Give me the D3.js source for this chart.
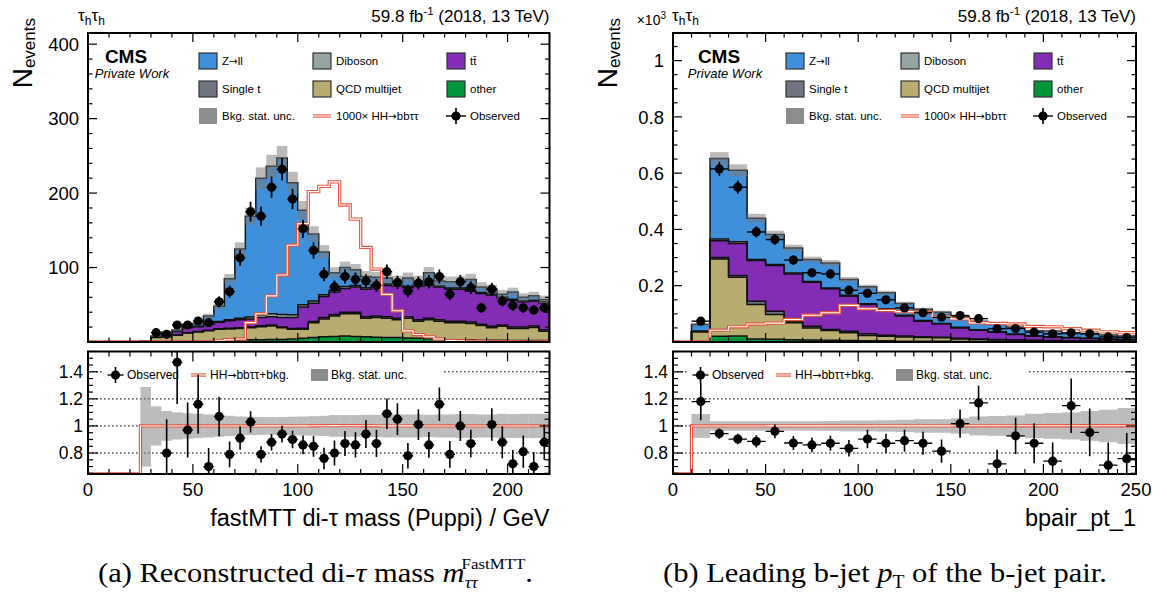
<!DOCTYPE html>
<html>
<head>
<meta charset="utf-8">
<script src="https://cdn.jsdelivr.net/npm/d3@7/dist/d3.min.js"></script>
<style>
html,body{margin:0;padding:0;background:#fff;}
svg text{font-family:"Liberation Sans",Arial,Helvetica,sans-serif;fill:#000;}
svg text.serif{font-family:"Liberation Serif","Times New Roman",serif;}
svg tspan.arr{font-family:"DejaVu Sans",sans-serif;}
</style>
</head>
<body>
<svg id="fig" width="1167" height="592"></svg>
<script>
// ---------- (a) fastMTT di-tau mass, 5 GeV bins ----------
const massBinLow = [0,5,10,15,20,25,30,35,40,45,50,55,60,65,70,75,80,85,90,95,100,105,110,115,120,125,130,135,140,145,150,155,160,165,170,175,180,185,190,195,200,205,210,215];
const massOther = [0,0,0,0,0,0,0.3,0.4,0.5,0.6,0.8,1,1.2,1.5,2.5,3,3,3.5,3.5,4,5,6,7,7.5,8,7.5,7,6.5,6,6,5.5,5,4.5,4,3,3,3,2.5,2.5,2.5,2,2,2,2];
const massQCD = [0,0,0,0,0,1.2,5.7,6.6,8.5,11.4,12.7,14,15.8,16,15.5,16,17.5,18,15.5,13,12,20,24,27.5,30,30.5,25,26.5,26,24,26.5,23,25.5,24,23,23,22,19.5,16.5,18.5,16,16,17.5,12.5];
const massSingleTop = [0,0,0,0,0,0,0.3,0.4,0.5,0.5,0.6,0.7,0.8,1,1,1.2,1.2,1.2,1.2,1.2,1.5,1.5,2,2,2,2,2,2,2,2,2,2,2,2,2,2,2,2,2,2,2,2,2,2];
const massTTbar = [0,0,0,0,0,0.1,0.5,3.6,4.5,7,6.4,8.3,8.7,10,11,10.8,11.3,11.3,12.8,14.8,28.5,24.5,28,30,32,34,37,40,42,43,39,45,44,44,43,43,41,41,42,36,36,34,33.5,36];
const massDiboson = [0,0,0,0,0,0,0.2,0.3,0.4,0.5,0.6,0.8,1,1.5,2,2.5,3.5,4,4,3.5,3,3,2.5,2.5,2.5,2,2,2,2,2,2,2,2,1.5,1.5,1.5,1.5,1.5,1.5,1.5,1.5,1.5,1.5,1.5];
const massZll = [0,0,0,0,0,0.2,1.0,1.7,1.6,3.5,3.9,10.2,20.5,55,93,135.5,183.5,198,210,177.5,127,90,57.5,23.5,25.5,21,15,10,8,5,11,5,15,6.5,8.5,8.5,14.5,7.5,6.5,3.5,9.5,4.5,5.5,3];
const massSignal = [0,0,0,0,0,0,0,0,0,0,0,0.5,1.5,3,4,26,38,62,90,130,159,202,209,215,184,165,127,98,64,42,15,10,7,4,2,1.5,1,1,0.5,0.5,0.5,0.3,0.3,0.3];
const massObserved = [null,null,null,null,null,null,12.5,10.3,22.8,22.8,28.2,26,54,67.7,113,175,169,208,232,192,152,123,91,74,88,84,82,76,94.5,80,68.5,79,81,88,64,81,73,46,71,55,49,46,43,46];
const massRatio = [null,null,null,null,null,null,null,0.80,1.47,0.97,1.16,0.70,1.07,0.79,0.91,1.03,0.79,0.88,0.94,0.90,0.86,0.85,0.76,0.80,0.87,0.86,0.94,0.87,1.09,1.05,0.78,1.01,0.86,1.16,0.79,1.00,0.87,null,1.01,0.88,0.72,0.81,0.70,0.88];
const massBkgUnc = [0,0,0,0,0,0.30,0.145,0.11,0.10,0.094,0.09,0.085,0.08,0.075,0.07,0.068,0.066,0.065,0.066,0.068,0.07,0.072,0.075,0.08,0.08,0.08,0.082,0.082,0.085,0.085,0.085,0.085,0.082,0.085,0.085,0.088,0.088,0.085,0.085,0.09,0.088,0.09,0.09,0.09];
const massXTicks = [0,50,100,150,200];
const massYTicks = [100,200,300,400];
const massYTickLabels = ["100","200","300","400"];

// ---------- (b) leading b-jet pT, 10 GeV bins ----------
const ptBinLow = [0,10,20,30,40,50,60,70,80,90,100,110,120,130,140,150,160,170,180,190,200,210,220,230,240];
const ptOther = [0,0.5,20.7,21,11,10,8,7,6,5,4,4,3,3,2.5,2,2,1.5,1.5,1,1,1,1,0.5,0.5];
const ptQCD = [0,35.5,274,209,122,88,60,43,35,27.6,19,16.7,15,13,12.5,9,7,5.5,4.5,4,3,2,2,1.5,1.5];
const ptSingleTop = [0,1,6,6,12,11,6,6,3,5.4,6,3.3,3,3,2,2,2,2,1.5,1,1,1,1,1,1];
const ptTTbar = [0,0.5,59,114,145,163,168,156,145,125,104,91,71,55,47.5,37,31,26,19.5,15,13,11,8,7,5];
const ptDiboson = [0,0.5,6,6,3,3,3,3,3,3,3,3,3,2,1.5,2,1.5,1,1,1,1,1,1,1,1];
const ptZll = [0,24,286,254,147,107,89,78,89,56,60,57,42,40,40,38,29,27,24,18,20,13,17.5,14,12];
const ptSignal = [0,1,42,54,64,67,80,95,104,130,118,112,108,105,90,82,68,66,64,55,54,47,42,36,33];
const ptObserved = [null,74,615,550,391,364,291,246,242,184,173,150,121,104,88,94,83,47,48,35,29,32.6,29,18,16];
const ptRatio = [null,1.18,0.944,0.903,0.886,0.96,0.874,0.86,0.872,0.835,0.903,0.872,0.891,0.872,0.814,1.017,1.17,0.72,0.927,0.872,0.74,1.15,0.952,0.71,0.758];
const ptBkgUnc = [0,0.088,0.035,0.035,0.035,0.035,0.035,0.035,0.036,0.04,0.04,0.042,0.045,0.05,0.05,0.057,0.07,0.073,0.077,0.09,0.095,0.1,0.11,0.12,0.133];
const ptXTicks = [0,50,100,150,200,250];
const ptYTicks = [200,400,600,800,1000];
const ptYTickLabels = ["0.2","0.4","0.6","0.8","1"];

const ratioTicks = [0.8,1.0,1.2,1.4];
const ratioTickLabels = ["0.8","1","1.2","1.4"];

const processNames = ["other","QCD multijet","Single t","tt\u0304","Diboson","Z|ll"];
const processColors = ["#00963a","#b9ac70","#717581","#832db6","#94a4a2","#3f90da"];

// ---------- layout ----------
const svg = d3.select("#fig");
const TOP = {y0: 33, y1: 342};
const RAT = {y0: 351.5, y1: 474};
const ratioDomain = [0.645, 1.55];
const SIG_COLOR = "#e2553d";

function stepPts(low, w, vals) {
  const pts = [];
  low.forEach((l, i) => { pts.push([l, vals[i]]); pts.push([l + w, vals[i]]); });
  return pts;
}

// text with a proper arrow glyph where "|" marks the arrow
function arrowText(sel, str) {
  const parts = str.split("|");
  parts.forEach((s, k) => {
    if (k > 0) sel.append("tspan").attr("class", "arr").attr("font-size", "0.9em").text("\u2192");
    if (s) sel.append("tspan").text(s);
  });
  return sel;
}

function doubleLine(g, d, clip) {
  const a = g.append("path").attr("d", d).attr("fill", "none")
    .attr("stroke", SIG_COLOR).attr("stroke-width", 3.3).attr("stroke-linejoin", "miter");
  const b = g.append("path").attr("d", d).attr("fill", "none")
    .attr("stroke", "#fff").attr("stroke-width", 1.1).attr("stroke-linejoin", "miter");
  if (clip) { a.attr("clip-path", clip); b.attr("clip-path", clip); }
}

function drawPanel(p) {
  const g = svg.append("g");
  const n = p.low.length;
  const x = d3.scaleLinear().domain([0, p.xMax]).range([p.x0, p.x1]);
  const y = d3.scaleLinear().domain([0, p.yMax]).range([TOP.y1, TOP.y0]);
  const r = d3.scaleLinear().domain(ratioDomain).range([RAT.y1, RAT.y0]).clamp(true);

  const defs = svg.append("defs");
  defs.append("clipPath").attr("id", p.id + "-top").append("rect")
    .attr("x", p.x0).attr("y", TOP.y0).attr("width", p.x1 - p.x0).attr("height", TOP.y1 - TOP.y0);
  defs.append("clipPath").attr("id", p.id + "-rat").append("rect")
    .attr("x", p.x0).attr("y", RAT.y0).attr("width", p.x1 - p.x0).attr("height", RAT.y1 - RAT.y0);
  const clipTop = `url(#${p.id}-top)`, clipRat = `url(#${p.id}-rat)`;

  // ---- stacked backgrounds ----
  const layers = [p.other, p.qcd, p.st, p.tt, p.vv, p.zll];
  let cum = new Array(n).fill(0);
  const tops = [];
  const area = d3.area().x(d => x(d.x)).y0(d => y(d.y0)).y1(d => y(d.y1));
  layers.forEach((arr, k) => {
    const lower = cum.slice();
    cum = cum.map((c, i) => c + arr[i]);
    const pts = [];
    for (let i = 0; i < n; i++) {
      pts.push({x: p.low[i], y0: lower[i], y1: cum[i]});
      pts.push({x: p.low[i] + p.binW, y0: lower[i], y1: cum[i]});
    }
    g.append("path").attr("d", area(pts)).attr("fill", processColors[k]).attr("clip-path", clipTop);
    tops.push(cum.slice());
  });
  const line = d3.line().x(d => x(d[0])).y(d => y(d[1]));
  tops.forEach(t => {
    const pts = [[p.low[0], 0]].concat(stepPts(p.low, p.binW, t)).concat([[p.low[n - 1] + p.binW, 0]]);
    g.append("path").attr("d", line(pts)).attr("fill", "none").attr("stroke", "#111")
      .attr("stroke-width", 1.5).attr("clip-path", clipTop);
  });
  const total = cum;

  // ---- background stat. uncertainty band ----
  g.append("g").attr("clip-path", clipTop).selectAll("rect").data(d3.range(n).filter(i => total[i] > 0 && p.unc[i] > 0))
    .join("rect")
    .attr("x", i => x(p.low[i])).attr("width", i => x(p.low[i] + p.binW) - x(p.low[i]))
    .attr("y", i => y(total[i] * (1 + p.unc[i])))
    .attr("height", i => y(total[i] * (1 - p.unc[i])) - y(total[i] * (1 + p.unc[i])))
    .attr("fill", "#7a7a7a").attr("fill-opacity", 0.52);

  // ---- signal ----
  doubleLine(g, line(stepPts(p.low, p.binW, p.sig)), clipTop);

  // ---- observed ----
  const obsIdx = d3.range(n).filter(i => p.obs[i] != null);
  const og = g.append("g").attr("clip-path", clipTop);
  obsIdx.forEach(i => {
    const v = p.obs[i], e = Math.sqrt(v), c = p.low[i] + p.binW / 2;
    og.append("line").attr("x1", x(c)).attr("x2", x(c)).attr("y1", y(v - e)).attr("y2", y(v + e))
      .attr("stroke", "#000").attr("stroke-width", 1.8);
    og.append("line").attr("x1", x(p.low[i])).attr("x2", x(p.low[i] + p.binW)).attr("y1", y(v)).attr("y2", y(v))
      .attr("stroke", "#000").attr("stroke-width", 1.4);
    og.append("circle").attr("cx", x(c)).attr("cy", y(v)).attr("r", 4.6).attr("fill", "#000");
  });

  // ---- ratio panel ----
  const rg = g.append("g");
  ratioTicks.forEach(t => {
    rg.append("line").attr("x1", p.x0).attr("x2", p.x1).attr("y1", r(t)).attr("y2", r(t))
      .attr("stroke", "#000").attr("stroke-width", 1).attr("stroke-dasharray", "1.6,2.4");
  });
  rg.append("g").attr("clip-path", clipRat).selectAll("rect").data(d3.range(n).filter(i => p.unc[i] > 0))
    .join("rect")
    .attr("x", i => x(p.low[i])).attr("width", i => x(p.low[i] + p.binW) - x(p.low[i]))
    .attr("y", i => r(1 + p.unc[i])).attr("height", i => r(1 - p.unc[i]) - r(1 + p.unc[i]))
    .attr("fill", "#7a7a7a").attr("fill-opacity", 0.5);
  const sigRatio = total.map((t, i) => t > 0 ? (t + p.sig[i] / 1000) / t : 0);
  const rline = d3.line().x(d => x(d[0])).y(d => r(d[1]));
  doubleLine(rg, rline(stepPts(p.low, p.binW, sigRatio)), clipRat);

  // legend box in ratio panel
  const ly = 375;
  rg.append("rect").attr("x", p.x0 + 16).attr("y", ly - 12).attr("width", 339).attr("height", 24).attr("fill", "#fff");
  rg.append("line").attr("x1", p.x0 + 19.5).attr("x2", p.x0 + 35.5).attr("y1", ly).attr("y2", ly).attr("stroke", "#000").attr("stroke-width", 1.4);
  rg.append("line").attr("x1", p.x0 + 27.5).attr("x2", p.x0 + 27.5).attr("y1", ly - 8).attr("y2", ly + 8).attr("stroke", "#000").attr("stroke-width", 1.6);
  rg.append("circle").attr("cx", p.x0 + 27.5).attr("cy", ly).attr("r", 4.6).attr("fill", "#000");
  rg.append("text").attr("x", p.x0 + 39).attr("y", ly).attr("dy", "0.36em").attr("font-size", 12).text("Observed");
  doubleLine(rg, `M${p.x0 + 103},${ly}H${p.x0 + 118}`);
  arrowText(rg.append("text").attr("x", p.x0 + 122).attr("y", ly).attr("dy", "0.36em").attr("font-size", 12), "HH|bb\u03c4\u03c4+bkg.");
  rg.append("rect").attr("x", p.x0 + 223).attr("y", ly - 6).attr("width", 17).attr("height", 12).attr("fill", "#8c8c8c");
  rg.append("text").attr("x", p.x0 + 243).attr("y", ly).attr("dy", "0.36em").attr("font-size", 12).text("Bkg. stat. unc.");

  const rog = rg.append("g").attr("clip-path", clipRat);
  d3.range(n).filter(i => p.ratio[i] != null).forEach(i => {
    const v = p.ratio[i], e = v / Math.sqrt(p.obs[i]), c = p.low[i] + p.binW / 2;
    rog.append("line").attr("x1", x(c)).attr("x2", x(c)).attr("y1", r(v - e)).attr("y2", r(v + e))
      .attr("stroke", "#000").attr("stroke-width", 1.6);
    rog.append("line").attr("x1", x(p.low[i])).attr("x2", x(p.low[i] + p.binW)).attr("y1", r(v)).attr("y2", r(v))
      .attr("stroke", "#000").attr("stroke-width", 1.3);
    rog.append("circle").attr("cx", x(c)).attr("cy", r(v)).attr("r", 4.6).attr("fill", "#000");
  });

  // ---- frames & ticks ----
  const tg = g.append("g").attr("stroke", "#000").attr("stroke-width", 1.2);
  const xMinor = d3.range(0, p.xMax + 0.001, 10).filter(v => !p.xTicks.includes(v));
  [[TOP, 9, 4.5], [RAT, 10, 5]].forEach(([fr, M, m]) => {
    p.xTicks.forEach(v => {
      tg.append("line").attr("x1", x(v)).attr("x2", x(v)).attr("y1", fr.y1).attr("y2", fr.y1 - M);
      tg.append("line").attr("x1", x(v)).attr("x2", x(v)).attr("y1", fr.y0).attr("y2", fr.y0 + M);
    });
    xMinor.forEach(v => {
      tg.append("line").attr("x1", x(v)).attr("x2", x(v)).attr("y1", fr.y1).attr("y2", fr.y1 - m);
      tg.append("line").attr("x1", x(v)).attr("x2", x(v)).attr("y1", fr.y0).attr("y2", fr.y0 + m);
    });
  });
  const yMinor = d3.range(p.yMinorStep, p.yMax, p.yMinorStep).filter(v => !p.yTicks.some(t => Math.abs(t - v) < 1e-6));
  p.yTicks.forEach(v => {
    tg.append("line").attr("x1", p.x0).attr("x2", p.x0 + 9).attr("y1", y(v)).attr("y2", y(v));
    tg.append("line").attr("x1", p.x1).attr("x2", p.x1 - 9).attr("y1", y(v)).attr("y2", y(v));
  });
  yMinor.forEach(v => {
    tg.append("line").attr("x1", p.x0).attr("x2", p.x0 + 4.5).attr("y1", y(v)).attr("y2", y(v));
    tg.append("line").attr("x1", p.x1).attr("x2", p.x1 - 4.5).attr("y1", y(v)).attr("y2", y(v));
  });
  const rMinor = d3.range(0.65, 1.551, 0.05).filter(v => !ratioTicks.some(t => Math.abs(t - v) < 1e-6));
  ratioTicks.forEach(v => {
    tg.append("line").attr("x1", p.x0).attr("x2", p.x0 + 10).attr("y1", r(v)).attr("y2", r(v));
    tg.append("line").attr("x1", p.x1).attr("x2", p.x1 - 10).attr("y1", r(v)).attr("y2", r(v));
  });
  rMinor.forEach(v => {
    tg.append("line").attr("x1", p.x0).attr("x2", p.x0 + 5).attr("y1", r(v)).attr("y2", r(v));
    tg.append("line").attr("x1", p.x1).attr("x2", p.x1 - 5).attr("y1", r(v)).attr("y2", r(v));
  });
  [TOP, RAT].forEach(fr => {
    g.append("rect").attr("x", p.x0).attr("y", fr.y0).attr("width", p.x1 - p.x0).attr("height", fr.y1 - fr.y0)
      .attr("fill", "none").attr("stroke", "#000").attr("stroke-width", 2);
  });

  // ---- tick labels ----
  p.xTicks.forEach(v => {
    g.append("text").attr("x", x(v)).attr("y", 496).attr("text-anchor", "middle").attr("font-size", 18.5).text(v);
  });
  p.yTicks.forEach((v, k) => {
    g.append("text").attr("x", p.x0 - 9).attr("y", y(v)).attr("dy", "0.36em").attr("text-anchor", "end")
      .attr("font-size", 18.5).text(p.yTickLabels[k]);
  });
  ratioTicks.forEach((v, k) => {
    g.append("text").attr("x", p.x0 - 5).attr("y", r(v)).attr("dy", "0.36em").attr("text-anchor", "end")
      .attr("font-size", 17.5).text(ratioTickLabels[k]);
  });

  // ---- titles ----
  g.append("text").attr("x", p.x1).attr("y", 526).attr("text-anchor", "end").attr("font-size", 23.5).text(p.xTitle);
  const yt = g.append("text").attr("transform", `translate(${p.x0 - 56},18) rotate(-90)`).attr("text-anchor", "end");
  yt.append("tspan").attr("font-size", 28).text("N");
  yt.append("tspan").attr("font-size", 17).attr("dy", 3).text("events");

  const ch = g.append("text").attr("x", p.x0 + p.chanX).attr("y", 21).attr("font-size", 17);
  ch.append("tspan").text("\u03c4");
  ch.append("tspan").attr("font-size", 12).attr("dy", 4).text("h");
  ch.append("tspan").attr("dy", -4).text("\u03c4");
  ch.append("tspan").attr("font-size", 12).attr("dy", 4).text("h");

  const lumi = g.append("text").attr("x", p.x1).attr("y", 22).attr("text-anchor", "end").attr("font-size", 17);
  lumi.append("tspan").text("59.8 fb");
  lumi.append("tspan").attr("font-size", 11.5).attr("dy", -7).text("-1");
  lumi.append("tspan").attr("dy", 7).text(" (2018, 13 TeV)");

  if (p.scaleLabel) {
    const sl = g.append("text").attr("x", p.x0 - 7).attr("y", 25).attr("text-anchor", "end").attr("font-size", 14);
    sl.append("tspan").text("\u00d710");
    sl.append("tspan").attr("font-size", 10).attr("dy", -6).text("3");
  }

  // ---- CMS label ----
  g.append("text").attr("x", p.x0 + p.cmsX).attr("y", 63).attr("text-anchor", "middle")
    .attr("font-size", 19).attr("font-weight", "bold").text("CMS");
  g.append("text").attr("x", p.x0 + p.cmsX + 6).attr("y", 78).attr("text-anchor", "middle")
    .attr("font-size", 13).attr("font-style", "italic").text("Private Work");

  // ---- legend ----
  const cols = p.legCols.map(c => p.x0 + c);
  const rows = [61, 89, 116];
  const entries = [[5, 0, 0], [4, 0, 1], [3, 0, 2], [2, 1, 0], [1, 1, 1], [0, 1, 2]];
  entries.forEach(([k, ri, ci]) => {
    g.append("rect").attr("x", cols[ci]).attr("y", rows[ri] - 8).attr("width", 18).attr("height", 16)
      .attr("fill", processColors[k]).attr("stroke", "#333").attr("stroke-width", 1.2);
    arrowText(g.append("text").attr("x", cols[ci] + 23).attr("y", rows[ri]).attr("dy", "0.36em").attr("font-size", 11.5), processNames[k]);
  });
  g.append("rect").attr("x", cols[0]).attr("y", rows[2] - 8).attr("width", 18).attr("height", 16).attr("fill", "#8c8c8c");
  g.append("text").attr("x", cols[0] + 23).attr("y", rows[2]).attr("dy", "0.36em").attr("font-size", 11.5).text("Bkg. stat. unc.");
  doubleLine(g, `M${cols[1]},${rows[2]}H${cols[1] + 18}`);
  arrowText(g.append("text").attr("x", cols[1] + 23).attr("y", rows[2]).attr("dy", "0.36em").attr("font-size", 11.5), "1000\u00d7 HH|bb\u03c4\u03c4");
  const mx = cols[2] + 9;
  g.append("line").attr("x1", mx - 10).attr("x2", mx + 10).attr("y1", rows[2]).attr("y2", rows[2]).attr("stroke", "#000").attr("stroke-width", 1.4);
  g.append("line").attr("x1", mx).attr("x2", mx).attr("y1", rows[2] - 8).attr("y2", rows[2] + 8).attr("stroke", "#000").attr("stroke-width", 1.6);
  g.append("circle").attr("cx", mx).attr("cy", rows[2]).attr("r", 4.6).attr("fill", "#000");
  g.append("text").attr("x", cols[2] + 23).attr("y", rows[2]).attr("dy", "0.36em").attr("font-size", 11.5).text("Observed");
}

drawPanel({
  id: "mass", x0: 88, x1: 549.5, xMax: 220, binW: 5, low: massBinLow, yMax: 415,
  other: massOther, qcd: massQCD, st: massSingleTop, tt: massTTbar, vv: massDiboson, zll: massZll,
  sig: massSignal, obs: massObserved, ratio: massRatio, unc: massBkgUnc,
  xTicks: massXTicks, yTicks: massYTicks, yTickLabels: massYTickLabels, yMinorStep: 20,
  xTitle: "fastMTT di-\u03c4 mass (Puppi) / GeV", scaleLabel: false,
  cmsX: 38, legCols: [111, 225, 359], chanX: -10
});
drawPanel({
  id: "pt", x0: 673, x1: 1136, xMax: 250, binW: 10, low: ptBinLow, yMax: 1098,
  other: ptOther, qcd: ptQCD, st: ptSingleTop, tt: ptTTbar, vv: ptDiboson, zll: ptZll,
  sig: ptSignal, obs: ptObserved, ratio: ptRatio, unc: ptBkgUnc,
  xTicks: ptXTicks, yTicks: ptYTicks, yTickLabels: ptYTickLabels, yMinorStep: 50,
  xTitle: "bpair_pt_1", scaleLabel: true,
  cmsX: 46, legCols: [113, 228, 361], chanX: -1
});

// ---- sub-figure captions (slightly widened serif) ----
const capA = svg.append("text").attr("class", "serif").attr("font-size", 28)
  .attr("transform", "translate(98,582) scale(1.09,1)");
capA.append("tspan").text("(a) Reconstructed di-");
capA.append("tspan").attr("font-style", "italic").text("\u03c4");
capA.append("tspan").text(" mass ");
capA.append("tspan").attr("font-style", "italic").text("m");
capA.append("tspan").attr("font-style", "italic").attr("font-size", 17).attr("dy", 6).text("\u03c4\u03c4");
capA.append("tspan").attr("font-size", 15.5).attr("dx", -15).attr("dy", -19).text("FastMTT");
capA.append("tspan").attr("dy", 13).text(".");

const capB = svg.append("text").attr("class", "serif").attr("font-size", 28)
  .attr("transform", "translate(663,582) scale(1.09,1)");
capB.append("tspan").text("(b) Leading b-jet ");
capB.append("tspan").attr("font-style", "italic").text("p");
capB.append("tspan").attr("font-size", 18).attr("dy", 6).text("T");
capB.append("tspan").attr("dy", -6).text(" of the b-jet pair.");
</script>
</body>
</html>
